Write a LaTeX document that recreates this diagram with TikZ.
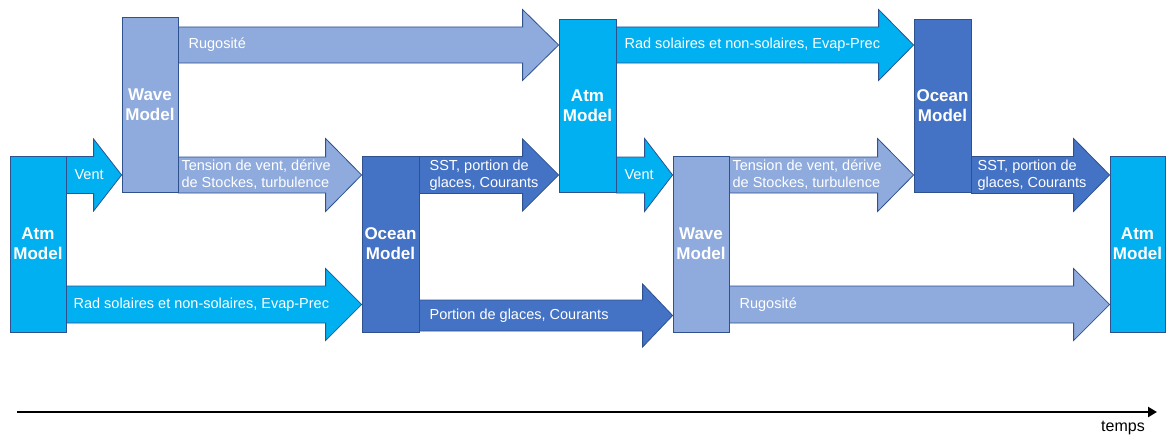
\documentclass[tikz,border=0pt]{standalone}
\usepackage{fontspec}
\setmainfont{Liberation Sans}
\usetikzlibrary{calc}
\usetikzlibrary{arrows.meta}

\definecolor{atmcol}{HTML}{00B0F0}
\definecolor{wavecol}{HTML}{8FAADC}
\definecolor{oceancol}{HTML}{4472C4}
\definecolor{edgecol}{HTML}{2F528F}

\begin{document}
\begin{tikzpicture}[x=1pt,y=-1pt]
  \tikzset{model/.style = {draw=edgecol, line width=0.8pt, minimum width=56pt, minimum height=176pt, inner sep=0pt, text=white, align=center, font=\bfseries\fontsize{17}{20}\selectfont}}
  \tikzset{toprow/.style = {minimum height=173pt}}
  \tikzset{fatarrow/.style = {draw=edgecol, line width=0.8pt, line join=miter}}
  \tikzset{flowtext/.style = {anchor=west, text=white, align=left, inner sep=0pt, font=\fontsize{14.5}{17}\selectfont}}

  \useasboundingbox (0,0) rectangle (1166,436);

  % rows of the exchanges
  \coordinate (rowA) at (0,45);
  \coordinate (rowB) at (0,175);
  \coordinate (rowC) at (0,304.5);
  \coordinate (rowD) at (0,315.5);

  \node[model, fill=atmcol] (atmA) at (38,244) {Atm\\Model};
  \node[model, fill=wavecol, minimum height=175pt] (waveA) at (150,104.5) {Wave\\Model};
  \node[model, fill=oceancol, minimum width=57pt] (oceanA) at (390.5,244) {Ocean\\Model};
  \node[model, toprow, fill=atmcol, minimum width=57pt] (atmB) at (587.5,105.5) {Atm\\Model};
  \node[model, fill=wavecol] (waveB) at (701,244) {Wave\\Model};
  \node[model, toprow, fill=oceancol, minimum width=57pt] (oceanB) at (942.5,105.5) {Ocean\\Model};
  \node[model, fill=atmcol, minimum width=55pt] (atmC) at (1137.5,244) {Atm\\Model};

  \foreach \from/\to/\row/\col/\bw/\hw/\hl/\dx/\txt in {
      atmA/waveA/rowB/atmcol/18.5/36/28/8/Vent,
      waveA/atmB/rowA/wavecol/18/35.5/36/10/Rugosité,
      waveA/oceanA/rowB/wavecol/18/36.5/36/3/{Tension de vent, dérive\\de Stockes, turbulence},
      atmA/oceanA/rowC/atmcol/18.5/36/36/7/{Rad solaires et non-solaires, Evap-Prec},
      oceanA/atmB/rowB/oceancol/18.5/36/36/10/{SST, portion de\\glaces, Courants},
      oceanA/waveB/rowD/oceancol/15.5/31.5/30/10/{Portion de glaces, Courants},
      atmB/oceanB/rowA/atmcol/18/35.5/35/8/{Rad solaires et non-solaires, Evap-Prec},
      atmB/waveB/rowB/atmcol/18/36.5/28/8/Vent,
      waveB/oceanB/rowB/wavecol/18/36.5/36/3/{Tension de vent, dérive\\de Stockes, turbulence},
      waveB/atmC/rowC/wavecol/18.5/36/36/10/Rugosité,
      oceanB/atmC/rowB/oceancol/18.5/36.5/36/6/{SST, portion de\\glaces, Courants}}
  {
    \draw[fatarrow, fill=\col]
      ($(\from.east |- \row)+(0,-\bw)$) -- ($(\to.west |- \row)+(-\hl,-\bw)$)
      -- ($(\to.west |- \row)+(-\hl,-\hw)$) -- (\to.west |- \row)
      -- ($(\to.west |- \row)+(-\hl,\hw)$) -- ($(\to.west |- \row)+(-\hl,\bw)$)
      -- ($(\from.east |- \row)+(0,\bw)$) -- cycle;
    \node[flowtext] (lbl\from\to) at ($(\from.east |- \row)+(\dx,0)$) {\txt};
  }

  % time axis
  \coordinate (t0) at (17,412);
  \coordinate (t1) at (1157,412);
  \draw[line width=2.5pt, -{Triangle[length=9pt,width=10pt]}] (t0) -- (t1);
  \node[font=\fontsize{16}{19}\selectfont, inner sep=0pt] (temps) at (1123,428) {temps};

\end{tikzpicture}
\end{document}
